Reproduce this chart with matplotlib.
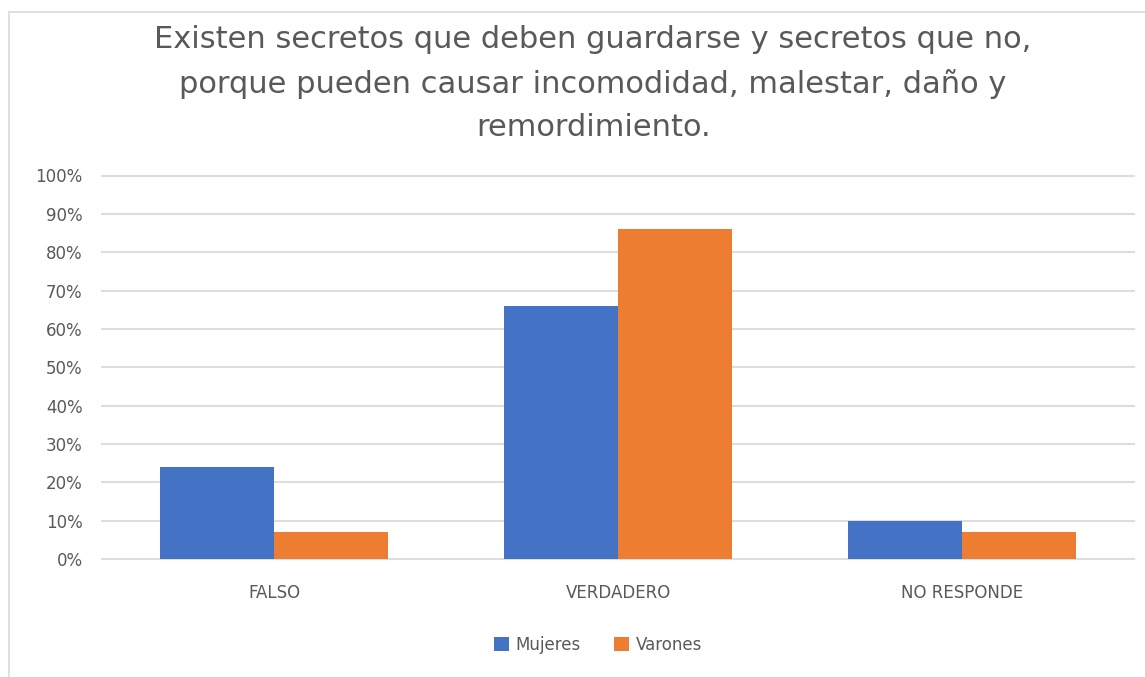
import matplotlib.pyplot as plt
import matplotlib.patches as mpatches
from matplotlib.ticker import PercentFormatter
import numpy as np

# ---------- Data ----------
categories = ['FALSO', 'VERDADERO', 'NO RESPONDE']
mujeres = [0.24, 0.66, 0.10]
varones = [0.07, 0.86, 0.07]
title = ('Existen secretos que deben guardarse y secretos que no,\n'
         'porque pueden causar incomodidad, malestar, daño y\n'
         'remordimiento.')

# ---------- Style ----------
blue = '#4472C4'
orange = '#ED7D31'
txt = '#595959'
plt.rcParams['font.family'] = ['DejaVu Sans']

fig = plt.figure(figsize=(11.45, 6.77), dpi=100)
fig.patches.append(mpatches.Rectangle((9 / 1145, -0.1), 1.2, 1 - 12 / 677 + 0.1,
                                      transform=fig.transFigure, fill=False,
                                      edgecolor='#D9D9D9', linewidth=1.2))
ax = fig.add_axes([102 / 1145, 1 - 559 / 677, 1032 / 1145, (559 - 175.5) / 677])

# ---------- Bars ----------
x = np.arange(len(categories))
w = 0.332
ax.bar(x - w / 2, mujeres, w, color=blue, label='Mujeres', zorder=3)
ax.bar(x + w / 2, varones, w, color=orange, label='Varones', zorder=3)

ax.set_xlim(-0.5, 2.5)
ax.set_ylim(0, 1)
ax.set_yticks(np.arange(0, 1.01, 0.1))
ax.yaxis.set_major_formatter(PercentFormatter(1.0, decimals=0))
ax.set_xticks(x)
ax.set_xticklabels(categories)
ax.tick_params(length=0, labelsize=12, colors=txt)
ax.tick_params(axis='x', pad=18)
ax.tick_params(axis='y', pad=14)
ax.grid(axis='y', color='#DDDDDD', linewidth=1.5, zorder=0)
for gl in ax.get_ygridlines():
    gl.set_clip_on(False)
for s in ax.spines.values():
    s.set_visible(False)

fig.text(0.518, 1 - 25 / 677, title, ha='center', va='top', fontsize=22,
         color=txt, linespacing=1.62)

leg = fig.legend(loc='center', bbox_to_anchor=(598 / 1145, 1 - 645 / 677), ncol=2,
                 frameon=False, handlelength=0.9, handleheight=0.9,
                 columnspacing=2.0, handletextpad=0.4, fontsize=12)
for t in leg.get_texts():
    t.set_color(txt)

fig.savefig('out.png', dpi=100)
